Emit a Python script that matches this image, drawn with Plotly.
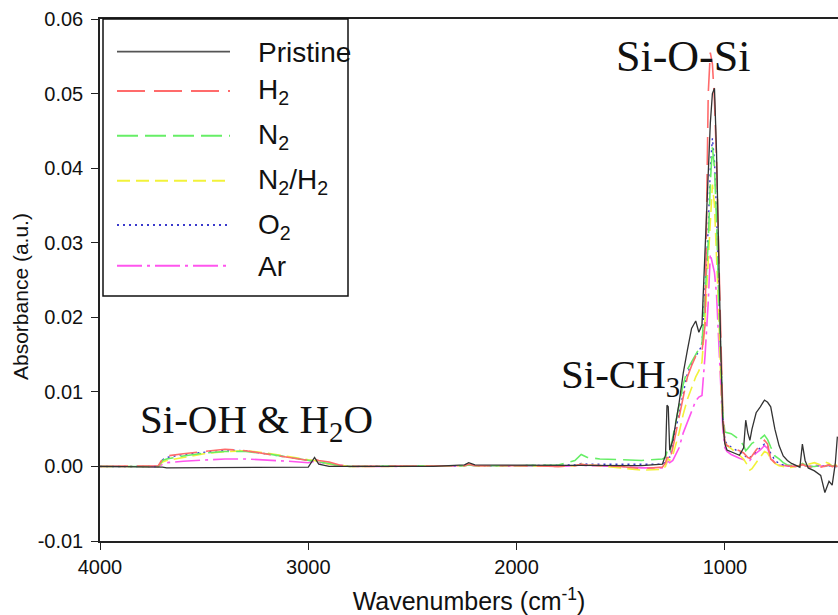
import plotly.graph_objects as go

# ---------------- data ----------------
wavenumbers = [4000, 3800, 3720, 3700, 3680, 3600, 3500, 3400, 3300, 3200,
               3100, 3000, 2970, 2950, 2900, 2850, 2800, 2600, 2400, 2250,
               2230, 2200, 2000, 1800, 1720, 1690, 1660, 1600, 1500, 1400,
               1300, 1285, 1278, 1272, 1265, 1250, 1220, 1200, 1180, 1160,
               1140, 1125, 1110, 1095, 1080, 1070, 1060, 1050, 1040, 1030,
               1020, 1010, 1000, 990, 970, 950, 930, 910, 900, 890,
               880, 870, 850, 830, 810, 795, 780, 760, 740, 720,
               700, 680, 660, 640, 628, 615, 600, 570, 540, 520,
               500, 485, 470, 460]

pristine = [0, 0, 0, -0.0001, -0.0002,
            -0.0002, -0.0002, -0.0002, -0.0002, -0.0002,
            -0.0002, -0.0001, 0.0012, 0.0003, 0.0000,
            0, 0, 0, 0, 0.0002,
            0.0005, 0.0002, 0.0002, 0.0001, 0.0001,
            0.0002, 0.0002, 0.0002, 0.0001, 0.0001,
            0.0003, 0.0015, 0.0082, 0.0080, 0.0022,
            0.0035, 0.0085, 0.0125, 0.0156, 0.0185,
            0.0195, 0.0180, 0.0190, 0.0290, 0.0390,
            0.0460, 0.0500, 0.0507, 0.0420, 0.0280,
            0.0160, 0.0060, 0.0030, 0.0022, 0.0020,
            0.0018, 0.0015, 0.0025, 0.0062, 0.0045,
            0.0035, 0.0050, 0.0072, 0.0080, 0.0089,
            0.0086, 0.0080, 0.0050, 0.0028, 0.0014,
            0.0008, 0.0004, 0.0001, -0.0001, 0.0030,
            0.0008, -0.0002, -0.0006, -0.0012, -0.0035,
            -0.0020, -0.0025, 0.0004, 0.0040]

h2 = [0, 0, 0.0001, 0.0010, 0.0014,
      0.0017, 0.0020, 0.0023, 0.0021, 0.0017,
      0.0012, 0.0008, 0.0010, 0.0008, 0.0006,
      0.0002, 0.0000, 0, 0, 0.0001,
      0.0003, 0.0001, 0.0001, 0, 0.0001,
      0.0003, 0.0002, 0.0001, 0.0000, -0.0003,
      -0.0001, 0.0005, 0.0012, 0.0012, 0.0008,
      0.0025, 0.0065, 0.0095, 0.0120, 0.0135,
      0.0148, 0.0150, 0.0155, 0.0190, 0.0500,
      0.0555, 0.0540, 0.0490, 0.0410, 0.0290,
      0.0170, 0.0070, 0.0032, 0.0028, 0.0026,
      0.0024, 0.0021, 0.0018, 0.0015, 0.0012,
      0.0011, 0.0014, 0.0022, 0.0028, 0.0035,
      0.0030, 0.0010, 0.0005, 0.0003, 0.0002,
      0.0001, 0.0000, 0, 0.0001, 0.0003,
      0.0001, 0, -0.0002, -0.0001, 0,
      0.0002, 0, 0.0001, 0]

n2 = [0, 0, 0, 0.0008, 0.0010,
      0.0014, 0.0018, 0.0020, 0.0020, 0.0017,
      0.0013, 0.0008, 0.0007, 0.0006, 0.0004,
      0.0001, 0, 0, 0, 0.0001,
      0.0002, 0.0001, 0.0001, 0.0002, 0.0008,
      0.0016, 0.0012, 0.0010, 0.0009, 0.0008,
      0.0010, 0.0012, 0.0020, 0.0022, 0.0018,
      0.0040, 0.0085, 0.0110, 0.0130, 0.0140,
      0.0150, 0.0158, 0.0165, 0.0230, 0.0300,
      0.0380, 0.0428, 0.0400, 0.0330, 0.0230,
      0.0140, 0.0070, 0.0046, 0.0045, 0.0044,
      0.0040, 0.0036, 0.0028, 0.0021, 0.0024,
      0.0028, 0.0031, 0.0034, 0.0037, 0.0042,
      0.0036, 0.0026, 0.0014, 0.0010, 0.0005,
      0.0002, 0.0002, 0.0001, 0.0001, 0.0004,
      0.0002, 0, 0, 0.0001, 0,
      0.0002, 0.0001, 0, 0]

n2h2 = [0, 0, 0, 0.0006, 0.0008,
        0.0012, 0.0017, 0.0020, 0.0021, 0.0018,
        0.0013, 0.0009, 0.0008, 0.0006, 0.0003,
        0.0001, 0, 0, 0, 0.0001,
        0.0002, 0.0001, 0.0001, 0, 0.0001,
        0.0003, 0.0002, 0.0001, -0.0002, -0.0005,
        -0.0004, 0, 0.0008, 0.0010, 0.0008,
        0.0015, 0.0045, 0.0070, 0.0090, 0.0105,
        0.0120, 0.0128, 0.0140, 0.0200, 0.0280,
        0.0340, 0.0378, 0.0350, 0.0290, 0.0210,
        0.0120, 0.0060, 0.0032, 0.0028, 0.0024,
        0.0020, 0.0015, 0.0010, 0.0006, 0.0001,
        -0.0005, -0.0003, 0.0005, 0.0012, 0.0020,
        0.0018, 0.0010, 0.0004, 0.0001, 0,
        -0.0002, -0.0001, 0, 0.0001, 0.0002,
        0.0001, 0.0003, 0.0005, 0.0002, 0.0006,
        0.0004, 0, 0.0002, 0.0001]

o2 = [0, 0, 0, 0.0009, 0.0012,
      0.0016, 0.0019, 0.0022, 0.0021, 0.0017,
      0.0012, 0.0008, 0.0008, 0.0006, 0.0004,
      0.0001, 0, 0, 0, 0.0001,
      0.0002, 0.0001, 0.0001, 0.0001, 0.0002,
      0.0004, 0.0003, 0.0003, 0.0003, 0.0003,
      0.0003, 0.0006, 0.0014, 0.0015, 0.0012,
      0.0030, 0.0072, 0.0100, 0.0125, 0.0138,
      0.0148, 0.0155, 0.0162, 0.0240, 0.0320,
      0.0400, 0.0440, 0.0410, 0.0340, 0.0240,
      0.0140, 0.0065, 0.0035, 0.0030, 0.0026,
      0.0022, 0.0019, 0.0016, 0.0013, 0.0011,
      0.0012, 0.0015, 0.0020, 0.0025, 0.0030,
      0.0028, 0.0018, 0.0008, 0.0004, 0.0002,
      0.0001, 0, 0, 0.0001, 0.0003,
      0.0001, 0, 0, 0.0001, 0,
      0.0001, 0, 0, 0]

ar = [0, 0, 0, 0.0003, 0.0005,
      0.0007, 0.0009, 0.0010, 0.0010, 0.0009,
      0.0007, 0.0005, 0.0007, 0.0005, 0.0003,
      0.0001, 0, 0, 0, 0.0001,
      0.0003, 0.0001, 0.0001, 0, 0.0001,
      0.0002, 0.0001, 0.0001, 0, -0.0002,
      -0.0002, 0, 0.0006, 0.0007, 0.0005,
      0.0008, 0.0025, 0.0045, 0.0060, 0.0075,
      0.0088, 0.0093, 0.0095, 0.0150, 0.0220,
      0.0285, 0.0270, 0.0260, 0.0230, 0.0170,
      0.0100, 0.0050, 0.0025, 0.0020, 0.0016,
      0.0013, 0.0011, 0.0009, 0.0008, 0.0008,
      0.0008, 0.0012, 0.0018, 0.0022, 0.0028,
      0.0024, 0.0012, 0.0005, 0.0002, 0.0001,
      0, 0, 0, 0.0001, 0.0002,
      0.0001, 0, 0.0002, 0.0001, 0,
      0.0002, 0, 0, 0]

series_names = ["Pristine", "H<sub>2</sub>", "N<sub>2</sub>",
                "N<sub>2</sub>/H<sub>2</sub>", "O<sub>2</sub>", "Ar"]
series_values = [pristine, h2, n2, n2h2, o2, ar]

x_ticks = [4000, 3000, 2000, 1000]
y_ticks = [-0.01, 0.00, 0.01, 0.02, 0.03, 0.04, 0.05, 0.06]

# ---------------- styling ----------------
colors = ["#333333", "#FF6B6B", "#66EE66", "#F2F23A", "#3A3ACC", "#FF55EE"]
dashes = ["solid", "28px,9px", "21px,7px", "13px,6px", "2px,4px", "25px,5px,3px,5px"]
widths = [1.3, 1.6, 1.6, 1.6, 1.4, 1.6]

W, H = 838, 615
ML, MR, MT, MB = 100, 0, 19, 74
PW, PH = W - ML - MR, H - MT - MB


def px(x):
    # screen pixel -> paper coordinate
    return (x - ML) / PW


def py(y):
    return (H - MB - y) / PH


fig = go.Figure()
draw_order = [5, 4, 3, 2, 1, 0]
for i in draw_order:
    fig.add_trace(go.Scatter(
        x=wavenumbers, y=series_values[i], mode="lines", name=series_names[i],
        line=dict(color=colors[i], dash=dashes[i], width=widths[i]),
        showlegend=False, hoverinfo="skip"))

shapes = []
annotations = []

# legend box drawn by hand (long line samples as in the original)
shapes.append(dict(type="rect", xref="paper", yref="paper",
                   x0=px(103), x1=px(348), y0=py(296), y1=py(19),
                   line=dict(color="#111111", width=1.5), fillcolor="white",
                   layer="above"))
row_y = [51.7, 91, 135.7, 180.7, 225, 265.7]
legend_colors = ["#555555"] + colors[1:]
for i, yy in enumerate(row_y):
    shapes.append(dict(type="line", xref="paper", yref="paper",
                       x0=px(117), x1=px(230), y0=py(yy), y1=py(yy),
                       line=dict(color=legend_colors[i], dash=dashes[i],
                                 width=widths[i] + 0.5),
                       layer="above"))
    annotations.append(dict(xref="paper", yref="paper", x=px(256), y=py(yy + 1),
                            text=series_names[i], showarrow=False,
                            xanchor="left", yanchor="middle",
                            font=dict(family="Liberation Sans", size=28, color="#111111")))

annotations.append(dict(xref="paper", yref="paper", x=px(683), y=py(57),
                        text="Si-O-Si", showarrow=False, xanchor="center",
                        yanchor="middle",
                        font=dict(family="Liberation Serif", size=44, color="#111111")))
annotations.append(dict(xref="paper", yref="paper", x=px(559), y=py(377),
                        text="Si-CH<sub>3</sub>", showarrow=False, xanchor="left",
                        yanchor="middle",
                        font=dict(family="Liberation Serif", size=41, color="#111111")))
annotations.append(dict(xref="paper", yref="paper", x=px(138), y=py(422),
                        text="Si-OH &amp; H<sub>2</sub>O", showarrow=False,
                        xanchor="left", yanchor="middle",
                        font=dict(family="Liberation Serif", size=41, color="#111111")))
# y-axis title (placed like the original, slightly below the plot centre)
annotations.append(dict(xref="paper", yref="paper", x=px(20), y=py(297),
                        text="Absorbance (a.u.)", showarrow=False, textangle=-90,
                        xanchor="center", yanchor="middle",
                        font=dict(family="Liberation Sans", size=21, color="#111111")))

fig.update_layout(
    width=W, height=H,
    margin=dict(l=ML, r=MR, t=MT, b=MB, pad=0),
    paper_bgcolor="white", plot_bgcolor="white",
    shapes=shapes, annotations=annotations,
    font=dict(family="Liberation Sans", color="#111111"),
    xaxis=dict(range=[4000, 457], tickvals=x_ticks, ticktext=[str(v) for v in x_ticks],
               showgrid=False, zeroline=False, showline=True, linecolor="#222222",
               linewidth=1.5, mirror=True, ticks="outside", ticklen=7, tickwidth=1.3,
               tickcolor="#222222", tickfont=dict(size=20, family="Liberation Sans"),
               title=dict(text="Wavenumbers (cm<sup>-1</sup>)",
                          font=dict(size=25, family="Liberation Sans"), standoff=16)),
    yaxis=dict(range=[-0.01, 0.06], tickvals=y_ticks,
               ticktext=["%.2f" % v for v in y_ticks],
               showgrid=False, zeroline=False, showline=True, linecolor="#222222",
               linewidth=1.5, ticks="outside", ticklen=7, tickwidth=1.3,
               tickcolor="#222222", tickfont=dict(size=20, family="Liberation Sans"),
               ticklabelstandoff=4),
)

# remove the default 8px page margin so the figure fills the window exactly
fig.write_html("out.html", config={"displayModeBar": False},
               post_script="document.body.style.margin='0px';")
